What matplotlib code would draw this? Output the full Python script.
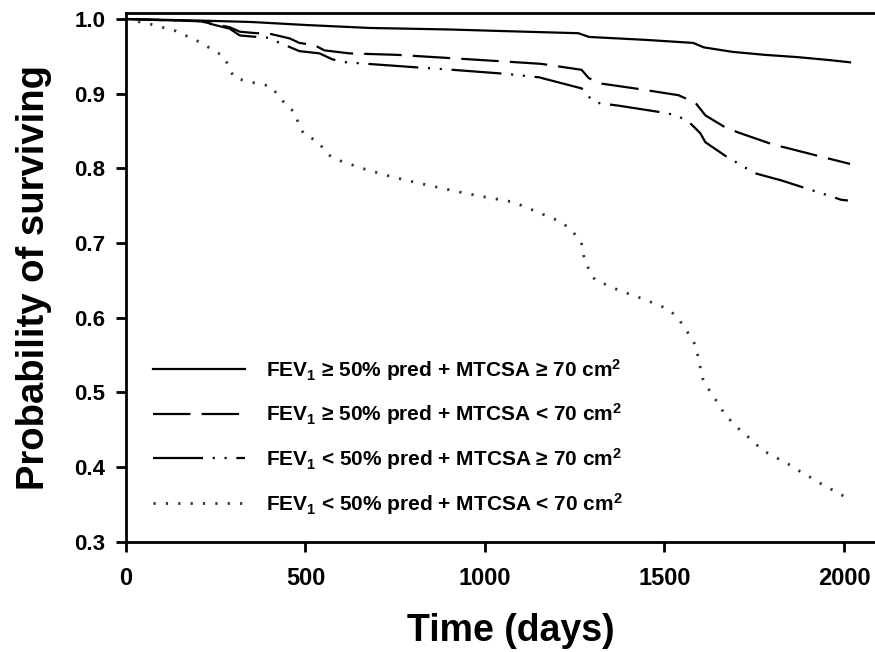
#!/usr/bin/env python3

import matplotlib
matplotlib.use("Agg")
import matplotlib.pyplot as plt


# Kaplan-Meier style curves (days, probability)
days_a = [0, 100, 200, 350, 500, 680, 900, 1040, 1260, 1290, 1450, 1580, 1610, 1690, 1780, 1870, 1960, 2017]
surv_a = [1.0, 0.999, 0.998, 0.996, 0.992, 0.988, 0.986, 0.984, 0.981, 0.976, 0.972, 0.968, 0.962, 0.956, 0.952, 0.949, 0.945, 0.942]

days_b = [0, 206, 289, 317, 364, 394, 456, 483, 525, 553, 622, 756, 892, 1025, 1156, 1269, 1289, 1317, 1419,
          1539, 1553, 1586, 1614, 1669, 1706, 1808, 1836, 1942, 2017]
surv_b = [1.0, 0.997, 0.989, 0.983, 0.981, 0.981, 0.974, 0.968, 0.965, 0.958, 0.954, 0.952, 0.948, 0.944, 0.940,
          0.932, 0.921, 0.914, 0.907, 0.898, 0.895, 0.888, 0.871, 0.855, 0.848, 0.831, 0.828, 0.815, 0.806]

days_c = [0, 206, 289, 317, 364, 394, 483, 539, 575, 614, 817, 881, 1047, 1150, 1270, 1275, 1308, 1372, 1506,
          1539, 1575, 1600, 1614, 1669, 1725, 1756, 1794, 1825, 1961, 1992, 2011]
surv_c = [1.0, 0.997, 0.987, 0.978, 0.976, 0.975, 0.957, 0.954, 0.946, 0.942, 0.935, 0.933, 0.927, 0.922, 0.907,
          0.902, 0.888, 0.884, 0.874, 0.870, 0.859, 0.847, 0.835, 0.817, 0.801, 0.793, 0.788, 0.784, 0.763, 0.758, 0.757]

days_d = [0, 69, 139, 206, 272, 289, 300, 333, 403, 422, 444, 472, 481, 497, 531, 553, 572, 603, 672, 739, 808,
          875, 942, 1008, 1078, 1144, 1214, 1247, 1269, 1275, 1289, 1306, 1372, 1442, 1508, 1536, 1558, 1581, 1592,
          1606, 1625, 1647, 1669, 1703, 1739, 1772, 1806, 1842, 1875, 1908, 1942, 1978, 2011]
surv_d = [1.0, 0.993, 0.984, 0.969, 0.950, 0.934, 0.922, 0.917, 0.910, 0.899, 0.886, 0.874, 0.858, 0.845, 0.837,
          0.825, 0.815, 0.809, 0.798, 0.789, 0.781, 0.774, 0.767, 0.761, 0.755, 0.742, 0.728, 0.714, 0.699, 0.683,
          0.665, 0.651, 0.637, 0.625, 0.612, 0.601, 0.585, 0.569, 0.551, 0.519, 0.503, 0.487, 0.470, 0.453, 0.438,
          0.423, 0.414, 0.405, 0.395, 0.386, 0.376, 0.367, 0.358]

labels = [
    r"FEV$_1$ ≥ 50% pred + MTCSA ≥ 70 cm$^2$",
    r"FEV$_1$ ≥ 50% pred + MTCSA < 70 cm$^2$",
    r"FEV$_1$ < 50% pred + MTCSA ≥ 70 cm$^2$",
    r"FEV$_1$ < 50% pred + MTCSA < 70 cm$^2$",
]

x_ticks = [0, 500, 1000, 1500, 2000]
y_ticks = [0.3, 0.4, 0.5, 0.6, 0.7, 0.8, 0.9, 1.0]

plt.rcParams["font.family"] = ["Liberation Sans", "DejaVu Sans"]
plt.rcParams["font.weight"] = "bold"
plt.rcParams["mathtext.fontset"] = "custom"
plt.rcParams["mathtext.rm"] = "Liberation Sans:bold"
plt.rcParams["mathtext.it"] = "Liberation Sans:bold"
plt.rcParams["mathtext.bf"] = "Liberation Sans:bold"
plt.rcParams["lines.scale_dashes"] = False

fig = plt.figure(figsize=(8.75, 6.52), dpi=100)
ax = fig.add_axes([0.144, 0.169, 0.88, 0.811])

ax.plot(days_a, surv_a, color="black", lw=1.6, label=labels[0])
ax.plot(days_b, surv_b, color="black", lw=1.6, dashes=(27, 8), label=labels[1])
ax.plot(days_c, surv_c, color="black", lw=1.6, dashes=(36, 7, 1.5, 7, 1.5, 7), label=labels[2])
ax.plot(days_d, surv_d, color="#333333", lw=2, dashes=(1.6, 7.3), label=labels[3])

ax.set_xlim(0, 2145)
ax.set_ylim(0.3, 1.008)
ax.set_xticks(x_ticks)
ax.set_yticks(y_ticks)
ax.set_yticklabels([f"{v:.1f}" for v in y_ticks])

for side in ["left", "bottom", "top"]:
    ax.spines[side].set_linewidth(2)
ax.spines["right"].set_visible(False)
ax.tick_params(direction="out", length=7, width=2)
ax.tick_params(axis="x", labelsize=17, pad=11)
ax.tick_params(axis="y", labelsize=16, pad=8)

ax.set_xlabel("Time (days)", fontsize=27, fontweight="bold", labelpad=17)
ax.set_ylabel("Probability of surviving", fontsize=27.5, fontweight="bold", labelpad=16)

ax.legend(loc="upper left", bbox_to_anchor=(0.035, 0.35), frameon=False,
          borderpad=0, borderaxespad=0, handlelength=4.4, handletextpad=1.05,
          labelspacing=0.9, fontsize=15)

fig.savefig("out.png", dpi=100)
